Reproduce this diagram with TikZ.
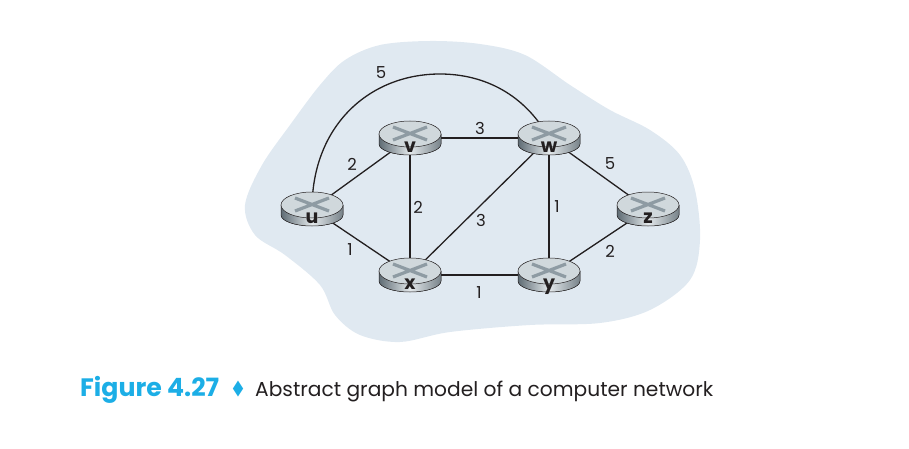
\documentclass[tikz,border=0pt]{standalone}
\usepackage{fontspec}
\setmainfont{Poppins}
\newfontfamily\symfont{DejaVu Sans}
\usetikzlibrary{shapes.geometric}
\definecolor{blob}{HTML}{E0E9F1}
\definecolor{capblue}{HTML}{1CAEE6}
\definecolor{rlight}{HTML}{E4E9EC}
\definecolor{rtop}{HTML}{D0D8DC}
\definecolor{rdark}{HTML}{5F6C74}
\definecolor{rx}{HTML}{8E9BA3}
\definecolor{ink}{HTML}{231F20}
\tikzset{
  routerhub/.style={shape=ellipse,minimum width=62pt,minimum height=34pt,inner sep=0pt,outer sep=0pt},
  link/.style={draw=ink,line width=1.3pt},
  cost/.style={text=ink,font=\fontsize{16.5pt}{18pt}\selectfont,inner sep=0pt},
  rname/.style={text=ink,font=\bfseries\fontsize{19pt}{20pt}\selectfont,inner sep=0pt},
}
\newcommand{\routerbody}[2]{%
  \begin{scope}[shift={(#1)}]
    \fill[left color=rdark,right color=rdark!85,middle color=rlight]
      (-31,-4) -- (-31,6) .. controls (-31,12.1) and (-17.1,17) .. (0,17)
      .. controls (17.1,17) and (31,12.1) .. (31,6) -- (31,-4) -- cycle;
    \draw[ink,line width=.5pt]
      (-31,-4) -- (-31,6) .. controls (-31,12.1) and (-17.1,17) .. (0,17)
      .. controls (17.1,17) and (31,12.1) .. (31,6) -- (31,-4);
    \draw[ink,line width=.5pt,fill=rtop]
      (-31,-4) .. controls (-31,-11.2) and (-17.1,-17) .. (0,-17)
      .. controls (17.1,-17) and (31,-11.2) .. (31,-4)
      .. controls (31,3.2) and (17.1,9) .. (0,9)
      .. controls (-17.1,9) and (-31,3.2) .. (-31,-4) -- cycle;
    \draw[rx,line width=3.2pt] (-17,-11) -- (17,2) (-17,2) -- (17,-11);
    \node[rname,anchor=base] (#1label) at (0,14.5) {#2};
  \end{scope}}
\begin{document}
\begin{tikzpicture}[x=1pt,y=-1pt]
\useasboundingbox (0,0) rectangle (909,449);
\fill[blob] plot[smooth cycle,tension=.55] coordinates {
 (245,205) (262,165) (290,125) (320,85) (345,60) (380,45) (430,41) (480,44) (525,55)
 (570,85) (610,110) (650,130) (680,155) (695,190) (700,240) (690,280) (650,310)
 (600,323) (530,325) (450,332) (400,342) (360,335) (335,315) (320,285) (285,255) (255,235)};
\node[routerhub] (u) at (312,209) {};
\node[routerhub] (v) at (410,138) {};
\node[routerhub] (w) at (549,138) {};
\node[routerhub] (z) at (648,209) {};
\node[routerhub] (x) at (410,275) {};
\node[routerhub] (y) at (549,275) {};
\draw[link] (u.center) -- (v.center);
\draw[link] (u.center) -- (x.center);
\draw[link] (v.center) -- (w.center);
\draw[link] (v.center) -- (x.center);
\draw[link] (w.center) -- (x.center);
\draw[link] (w.center) -- (y.center);
\draw[link] (w.center) -- (z.center);
\draw[link] (x.center) -- (y.center);
\draw[link] (y.center) -- (z.center);
\draw[link] (u.center) .. controls (312,125) and (370,74) .. (440,74) .. controls (485,74) and (525,95) .. (w.center);
\routerbody{u}{u}
\routerbody{v}{v}
\routerbody{w}{w}
\routerbody{z}{z}
\routerbody{x}{x}
\routerbody{y}{y}
\node[cost] (c1) at (381,73) {5};
\node[cost] (c2) at (480,128) {3};
\node[cost] (c3) at (610,164) {5};
\node[cost] (c4) at (352,164) {2};
\node[cost] (c5) at (418,207) {2};
\node[cost] (c6) at (481,220) {3};
\node[cost] (c7) at (557,207) {1};
\node[cost] (c8) at (350,250) {1};
\node[cost] (c9) at (610,251) {2};
\node[cost] (c10) at (479,293) {1};
\node[anchor=base west,inner sep=0pt,text=capblue,font=\bfseries\fontsize{25.2pt}{26pt}\selectfont] (fig) at (80,396.5) {Figure 4.27};
\node[anchor=center,inner sep=0pt,xscale=.65,text=capblue,font=\symfont\fontsize{21pt}{21pt}\selectfont] (dia) at (238,389) {◆};
\node[anchor=base west,inner sep=0pt,text=ink,font=\fontsize{20.2pt}{22pt}\selectfont] (cap) at (255,396) {Abstract graph model of a computer network};
\end{tikzpicture}
\end{document}
